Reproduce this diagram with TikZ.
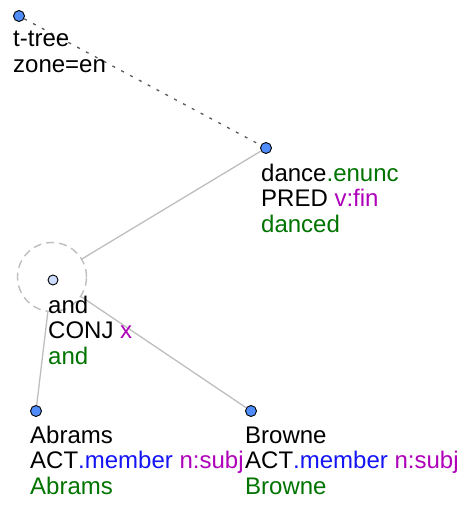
\documentclass[tikz,border=0pt]{standalone}
\usepackage{fontspec}
\setmainfont{Liberation Sans}
\usetikzlibrary{positioning}

\definecolor{nodeblue}{RGB}{80,140,250}
\definecolor{coordblue}{RGB}{205,220,255}
\definecolor{edgegray}{RGB}{190,190,190}
\definecolor{tgreen}{RGB}{0,115,0}
\definecolor{tblue}{RGB}{20,20,245}
\definecolor{tmagenta}{RGB}{175,0,185}

\tikzset{>=latex,
	tnode/.style={circle, draw=black, fill=nodeblue, line width=0.9pt, inner sep=0pt, minimum size=11pt},
	cnode/.style={tnode, fill=coordblue, minimum size=10pt},
	grpcircle/.style={circle, draw=edgegray, dash pattern=on 8pt off 5pt, line width=1.4pt, inner sep=0pt, minimum size=69pt},
	lbl/.style={anchor=base west, align=left, inner sep=0pt, font=\fontsize{24}{25.5}\selectfont},
	tedge/.style={draw=edgegray, line width=1.3pt},
	rootedge/.style={draw=black!65, line width=1.3pt, dash pattern=on 3pt off 7pt}
}

\begin{document}
\begin{tikzpicture}[x=1pt, y=-1pt]
		
			\useasboundingbox (0,0) rectangle (469,506);
			
			% nodes of the tree
			\node[tnode] (root) at (19,16) {};
			\node[tnode] (dance) at (266,148) {};
			\node[grpcircle] (grp) at (52,277) {};
			\node[cnode] (and) at (53,280) {};
			\node[tnode] (abrams) at (36,411) {};
			\node[tnode] (browne) at (251,411) {};
			
			% connectors
			\draw[rootedge] (root) -- (dance);
			\draw[tedge] (dance) -- (grp);
			\draw[tedge] (grp) -- (abrams);
			\draw[tedge] (grp) -- (browne);
			
			% labels (base is the last line)
			\node[lbl] (rootlbl) at ([shift={(-6,56)}]root.center) {t-tree\\zone=en};
			\node[lbl] (dancelbl) at ([shift={(-5,84)}]dance.center)
				{dance\textcolor{tgreen}{.enunc}\\PRED \textcolor{tmagenta}{v:fin}\\\textcolor{tgreen}{danced}};
			\node[lbl] (andlbl) at ([shift={(-5,84)}]and.center)
				{and\\CONJ \textcolor{tmagenta}{x}\\\textcolor{tgreen}{and}};
			\node[lbl] (abramslbl) at ([shift={(-6,83)}]abrams.center)
				{Abrams\\ACT\textcolor{tblue}{.member} \textcolor{tmagenta}{n:subj}\\\textcolor{tgreen}{Abrams}};
			\node[lbl] (brownelbl) at ([shift={(-6,83)}]browne.center)
				{Browne\\ACT\textcolor{tblue}{.member} \textcolor{tmagenta}{n:subj}\\\textcolor{tgreen}{Browne}};
			
		\end{tikzpicture}
\end{document}
